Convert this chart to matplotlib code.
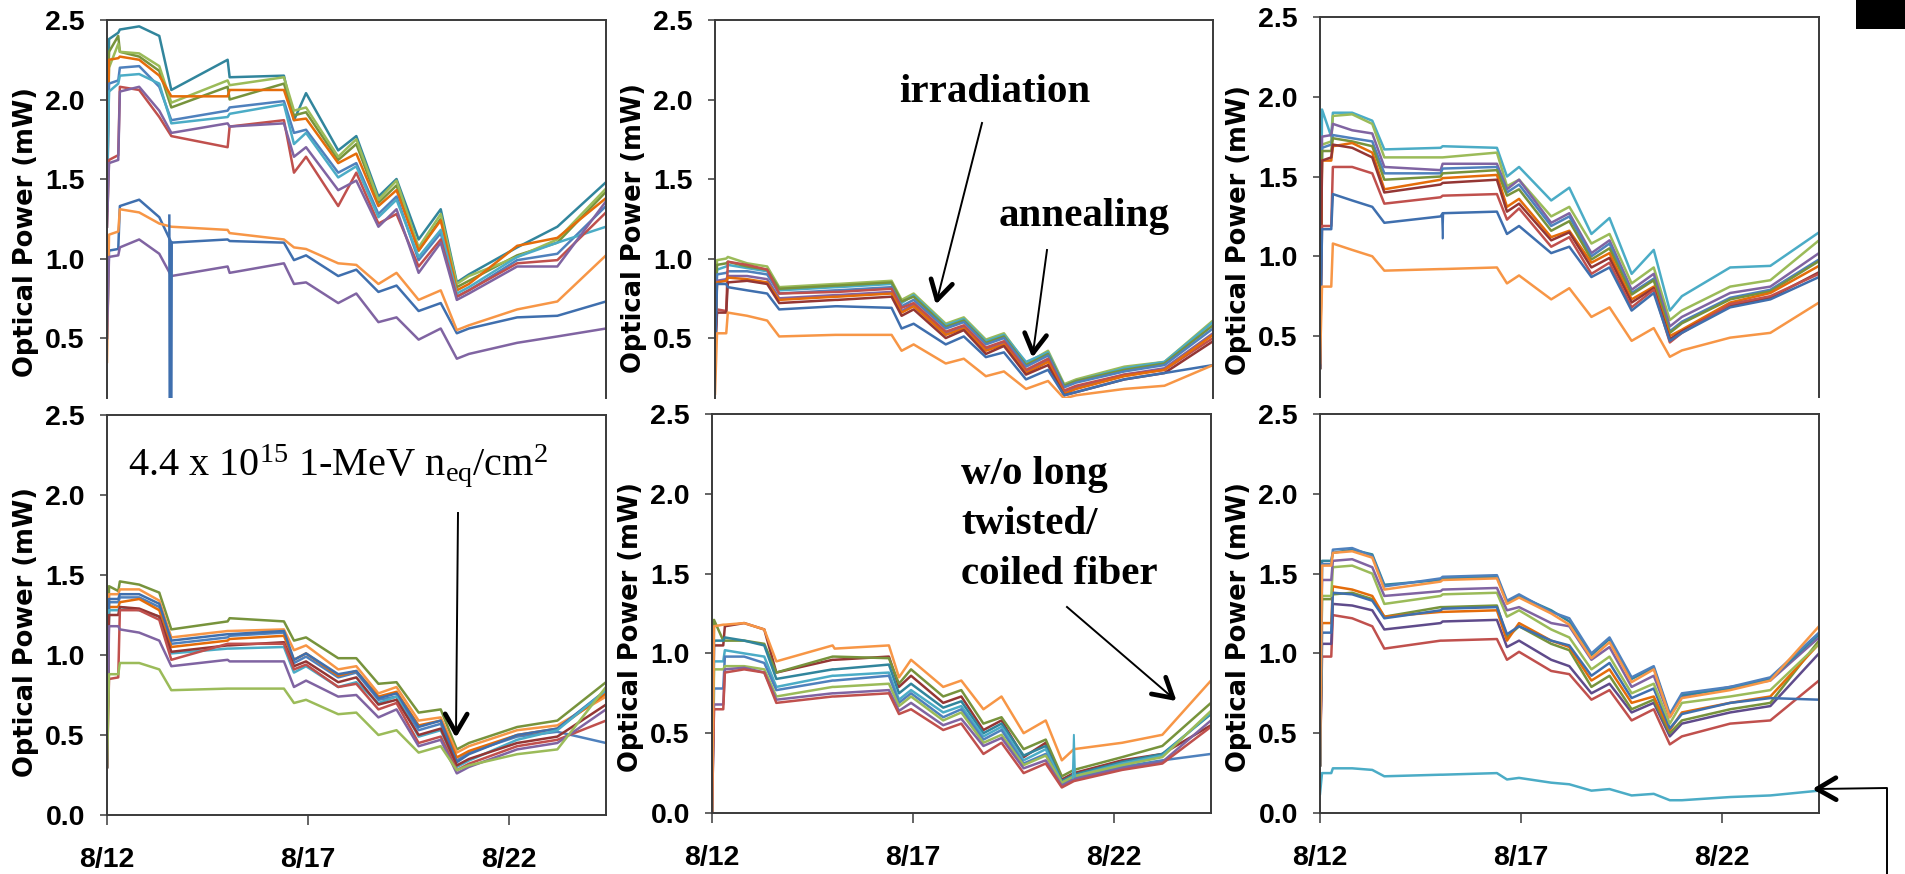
"""
光出力の経時変化（照射・アニール試験）6パネル図の再現
"""
import matplotlib
import matplotlib.pyplot as plt
import numpy as np
from matplotlib.lines import Line2D
from matplotlib.patches import Rectangle

matplotlib.use("Agg")
matplotlib.rcParams["font.family"] = ["Liberation Sans", "DejaVu Sans"]
matplotlib.rcParams["mathtext.fontset"] = "custom"
matplotlib.rcParams["mathtext.rm"] = "Liberation Serif"
matplotlib.rcParams["mathtext.it"] = "Liberation Serif:italic"

W, H = 1906, 874

# 共通の時間軸（8/12 からの日数）
T_DAYS = [0.0, 0.05, 0.28, 0.32, 0.8, 1.3, 1.6, 3.0, 3.05, 4.4, 4.65, 4.95,
          5.75, 6.2, 6.75, 7.2, 7.75, 8.3, 8.7, 9.0, 10.2, 11.2, 12.41]
X_TICKS = [0, 5, 10]
X_TICK_LABELS = ["8/12", "8/17", "8/22"]
Y_LABEL = "Optical Power (mW)"

BLUE, RED, GREEN, PURPLE = "#4F81BD", "#C0504D", "#9BBB59", "#8064A2"
CYAN, ORANGE, TEAL, DORANGE = "#4BACC6", "#F79646", "#31859C", "#E46C0A"
DGREEN, DRED, DBLUE, DPURPLE = "#77933C", "#943634", "#3F6FAE", "#5F4B8B"

# --- 上段左 ---
TL_COLORS = [TEAL, DGREEN, GREEN, DORANGE, BLUE, CYAN, RED, PURPLE, DBLUE, ORANGE, PURPLE]
TL_VALUES = [
    [1.40, 2.38, 2.42, 2.44, 2.46, 2.40, 2.06, 2.25, 2.14, 2.15, 1.87, 2.04, 1.68, 1.77, 1.39, 1.50, 1.12, 1.31, 0.85, 0.90, 1.07, 1.20, 1.48],
    [1.80, 2.30, 2.40, 2.30, 2.27, 2.18, 1.95, 2.08, 2.00, 2.10, 1.90, 1.92, 1.62, 1.72, 1.35, 1.46, 1.05, 1.25, 0.82, 0.86, 1.02, 1.10, 1.42],
    [1.50, 2.20, 2.35, 2.30, 2.29, 2.21, 1.98, 2.12, 2.09, 2.14, 1.93, 1.95, 1.64, 1.75, 1.37, 1.49, 1.07, 1.28, 0.84, 0.89, 1.01, 1.12, 1.44],
    [1.30, 2.25, 2.26, 2.27, 2.25, 2.15, 2.02, 2.02, 2.06, 2.06, 1.87, 1.88, 1.60, 1.66, 1.33, 1.43, 1.05, 1.24, 0.80, 0.84, 1.08, 1.13, 1.38],
    [1.30, 2.10, 2.12, 2.20, 2.21, 2.08, 1.87, 1.93, 1.95, 1.99, 1.79, 1.81, 1.54, 1.60, 1.28, 1.39, 0.99, 1.16, 0.76, 0.80, 0.99, 1.03, 1.33],
    [1.45, 2.05, 2.10, 2.15, 2.16, 2.10, 1.85, 1.89, 1.91, 1.97, 1.72, 1.79, 1.51, 1.58, 1.26, 1.37, 1.01, 1.18, 0.78, 0.82, 1.01, 1.10, 1.20],
    [1.20, 1.62, 1.65, 2.08, 2.06, 1.89, 1.77, 1.70, 1.83, 1.87, 1.54, 1.64, 1.33, 1.54, 1.22, 1.28, 0.95, 1.12, 0.76, 0.80, 0.97, 0.99, 1.29],
    [1.20, 1.60, 1.62, 2.05, 2.08, 1.93, 1.79, 1.85, 1.83, 1.85, 1.64, 1.70, 1.43, 1.49, 1.20, 1.31, 0.91, 1.10, 0.74, 0.78, 0.95, 0.95, 1.36],
    [0.50, 1.05, 1.06, 1.33, 1.37, 1.26, 1.10, 1.12, 1.11, 1.10, 0.99, 1.02, 0.89, 0.93, 0.79, 0.83, 0.67, 0.72, 0.53, 0.56, 0.63, 0.64, 0.73],
    [0.35, 1.15, 1.17, 1.31, 1.29, 1.22, 1.20, 1.18, 1.16, 1.12, 1.07, 1.06, 0.97, 0.96, 0.84, 0.91, 0.74, 0.80, 0.55, 0.58, 0.68, 0.73, 1.02],
    [0.50, 1.01, 1.02, 1.07, 1.12, 1.03, 0.89, 0.95, 0.91, 0.97, 0.84, 0.85, 0.72, 0.78, 0.60, 0.63, 0.49, 0.56, 0.37, 0.40, 0.47, 0.51, 0.56],
]
TL_SPIKE_T = [1.55, 1.56, 1.60, 1.61]
TL_SPIKE_V = [1.27, 0.0, 0.0, 1.10]

# --- 上段中央 ---
TM_COLORS = [GREEN, CYAN, DGREEN, BLUE, PURPLE, RED, DORANGE, DRED, DBLUE, ORANGE]
TM_VALUES = [
    [0.55, 0.99, 1.00, 1.01, 0.97, 0.95, 0.82, 0.84, 0.84, 0.86, 0.74, 0.78, 0.59, 0.63, 0.49, 0.53, 0.34, 0.42, 0.21, 0.24, 0.32, 0.35, 0.61],
    [0.50, 0.93, 0.95, 0.96, 0.94, 0.92, 0.80, 0.82, 0.82, 0.84, 0.72, 0.77, 0.58, 0.62, 0.48, 0.52, 0.35, 0.41, 0.20, 0.23, 0.31, 0.35, 0.60],
    [0.50, 0.96, 0.97, 0.98, 0.95, 0.93, 0.81, 0.83, 0.83, 0.85, 0.73, 0.76, 0.57, 0.61, 0.47, 0.51, 0.33, 0.40, 0.20, 0.23, 0.30, 0.34, 0.58],
    [0.40, 0.90, 0.91, 0.92, 0.92, 0.90, 0.78, 0.80, 0.80, 0.82, 0.70, 0.74, 0.56, 0.60, 0.46, 0.50, 0.32, 0.39, 0.19, 0.22, 0.29, 0.33, 0.56],
    [0.40, 0.86, 0.87, 0.89, 0.89, 0.87, 0.75, 0.77, 0.77, 0.79, 0.67, 0.71, 0.53, 0.57, 0.43, 0.47, 0.29, 0.36, 0.16, 0.19, 0.27, 0.31, 0.53],
    [0.40, 0.68, 0.67, 0.98, 0.96, 0.93, 0.78, 0.79, 0.79, 0.81, 0.69, 0.72, 0.54, 0.58, 0.44, 0.48, 0.30, 0.37, 0.17, 0.20, 0.27, 0.30, 0.50],
    [0.40, 0.85, 0.86, 0.88, 0.87, 0.85, 0.74, 0.76, 0.76, 0.78, 0.66, 0.70, 0.52, 0.56, 0.42, 0.46, 0.28, 0.35, 0.15, 0.18, 0.26, 0.30, 0.52],
    [0.40, 0.66, 0.66, 0.85, 0.86, 0.84, 0.72, 0.74, 0.74, 0.76, 0.64, 0.68, 0.50, 0.55, 0.40, 0.45, 0.27, 0.33, 0.14, 0.16, 0.24, 0.28, 0.48],
    [0.30, 0.84, 0.84, 0.82, 0.80, 0.78, 0.68, 0.70, 0.70, 0.69, 0.56, 0.59, 0.46, 0.51, 0.38, 0.41, 0.24, 0.30, 0.14, 0.16, 0.24, 0.28, 0.33],
    [0.15, 0.53, 0.53, 0.66, 0.64, 0.61, 0.51, 0.52, 0.52, 0.52, 0.42, 0.46, 0.34, 0.37, 0.26, 0.29, 0.18, 0.23, 0.12, 0.14, 0.18, 0.20, 0.33],
]

# --- 上段右 ---
TR_COLORS = [CYAN, GREEN, PURPLE, BLUE, DGREEN, DORANGE, DRED, RED, DBLUE, ORANGE]
TR_VALUES = [
    [0.30, 1.92, 1.75, 1.90, 1.90, 1.85, 1.67, 1.68, 1.69, 1.68, 1.50, 1.56, 1.35, 1.43, 1.14, 1.24, 0.89, 1.04, 0.66, 0.75, 0.93, 0.94, 1.15],
    [0.30, 1.70, 1.72, 1.88, 1.89, 1.83, 1.62, 1.62, 1.62, 1.65, 1.44, 1.48, 1.25, 1.31, 1.08, 1.14, 0.83, 0.93, 0.60, 0.66, 0.81, 0.85, 1.10],
    [0.30, 1.75, 1.76, 1.83, 1.79, 1.77, 1.56, 1.54, 1.58, 1.58, 1.42, 1.48, 1.21, 1.27, 1.02, 1.10, 0.79, 0.89, 0.56, 0.62, 0.77, 0.81, 1.02],
    [0.30, 1.68, 1.70, 1.76, 1.74, 1.72, 1.52, 1.52, 1.55, 1.56, 1.40, 1.45, 1.19, 1.25, 1.00, 1.08, 0.77, 0.86, 0.53, 0.59, 0.74, 0.79, 0.98],
    [0.30, 1.66, 1.66, 1.74, 1.72, 1.69, 1.48, 1.50, 1.52, 1.54, 1.38, 1.42, 1.16, 1.22, 0.98, 1.05, 0.76, 0.85, 0.52, 0.58, 0.73, 0.78, 0.97],
    [0.30, 1.60, 1.60, 1.69, 1.71, 1.65, 1.42, 1.48, 1.49, 1.51, 1.31, 1.36, 1.12, 1.16, 0.96, 1.02, 0.73, 0.81, 0.50, 0.54, 0.71, 0.77, 0.94],
    [0.30, 1.60, 1.62, 1.70, 1.68, 1.62, 1.40, 1.45, 1.46, 1.48, 1.28, 1.33, 1.10, 1.15, 0.93, 0.99, 0.71, 0.80, 0.48, 0.53, 0.69, 0.74, 0.90],
    [0.30, 1.19, 1.19, 1.56, 1.56, 1.52, 1.33, 1.37, 1.38, 1.39, 1.23, 1.30, 1.06, 1.12, 0.89, 0.96, 0.68, 0.79, 0.46, 0.52, 0.70, 0.75, 0.89],
    [0.30, 1.17, 1.17, 1.39, 1.35, 1.31, 1.21, 1.25, 1.27, 1.28, 1.14, 1.19, 1.02, 1.06, 0.87, 0.93, 0.66, 0.77, 0.47, 0.52, 0.68, 0.73, 0.87],
    [0.33, 0.81, 0.81, 1.08, 1.04, 1.00, 0.91, 0.92, 0.92, 0.93, 0.83, 0.88, 0.73, 0.80, 0.62, 0.68, 0.47, 0.55, 0.37, 0.41, 0.49, 0.52, 0.71],
]
TR_SPIKE_T = [3.03, 3.05, 3.07]
TR_SPIKE_V = [1.26, 1.11, 1.27]

# --- 下段左 ---
BL_COLORS = [DGREEN, ORANGE, BLUE, DORANGE, DBLUE, CYAN, DRED, RED, PURPLE, GREEN]
BL_VALUES = [
    [0.30, 1.43, 1.40, 1.46, 1.44, 1.39, 1.16, 1.21, 1.23, 1.21, 1.09, 1.11, 0.98, 0.98, 0.82, 0.83, 0.64, 0.66, 0.41, 0.45, 0.55, 0.59, 0.83],
    [0.30, 1.38, 1.38, 1.41, 1.41, 1.34, 1.11, 1.15, 1.15, 1.16, 1.03, 1.06, 0.91, 0.93, 0.76, 0.80, 0.59, 0.61, 0.39, 0.43, 0.53, 0.56, 0.74],
    [0.30, 1.33, 1.33, 1.36, 1.36, 1.30, 1.07, 1.11, 1.12, 1.14, 0.95, 0.99, 0.86, 0.89, 0.72, 0.74, 0.53, 0.57, 0.34, 0.39, 0.49, 0.52, 0.45],
    [0.30, 1.30, 1.30, 1.33, 1.35, 1.28, 1.05, 1.09, 1.10, 1.12, 0.97, 1.01, 0.87, 0.90, 0.74, 0.77, 0.56, 0.59, 0.36, 0.40, 0.50, 0.54, 0.76],
    [0.30, 1.35, 1.35, 1.38, 1.38, 1.32, 1.09, 1.13, 1.13, 1.15, 0.97, 1.01, 0.88, 0.90, 0.73, 0.76, 0.55, 0.59, 0.33, 0.38, 0.50, 0.54, 0.78],
    [0.30, 1.28, 1.28, 1.30, 1.28, 1.24, 1.01, 1.04, 1.04, 1.05, 0.89, 0.93, 0.80, 0.83, 0.70, 0.74, 0.49, 0.53, 0.30, 0.34, 0.47, 0.53, 0.78],
    [0.30, 1.25, 1.25, 1.30, 1.29, 1.24, 1.02, 1.06, 1.06, 1.08, 0.93, 0.96, 0.83, 0.86, 0.69, 0.72, 0.50, 0.54, 0.31, 0.35, 0.45, 0.49, 0.69],
    [0.30, 0.85, 0.86, 1.28, 1.28, 1.22, 0.97, 1.07, 1.07, 1.07, 0.91, 0.94, 0.80, 0.82, 0.66, 0.70, 0.45, 0.49, 0.28, 0.32, 0.43, 0.47, 0.59],
    [0.30, 1.18, 1.18, 1.16, 1.14, 1.09, 0.93, 0.97, 0.96, 0.96, 0.80, 0.84, 0.74, 0.75, 0.61, 0.66, 0.43, 0.47, 0.26, 0.30, 0.41, 0.45, 0.66],
    [0.30, 0.88, 0.88, 0.95, 0.95, 0.91, 0.78, 0.79, 0.79, 0.79, 0.70, 0.72, 0.63, 0.64, 0.50, 0.53, 0.39, 0.43, 0.28, 0.31, 0.38, 0.41, 0.80],
]

# --- 下段中央 ---
BM_COLORS = [DRED, DGREEN, TEAL, CYAN, BLUE, GREEN, PURPLE, RED, ORANGE]
BM_VALUES = [
    [0.00, 1.05, 1.05, 1.17, 1.19, 1.15, 0.88, 0.96, 0.96, 0.98, 0.79, 0.86, 0.69, 0.73, 0.52, 0.58, 0.35, 0.44, 0.21, 0.25, 0.33, 0.37, 0.55],
    [0.00, 1.21, 1.08, 1.08, 1.08, 1.06, 0.88, 0.98, 0.98, 0.97, 0.81, 0.90, 0.73, 0.77, 0.56, 0.60, 0.40, 0.46, 0.23, 0.27, 0.35, 0.42, 0.69],
    [0.00, 1.08, 1.08, 1.10, 1.08, 1.05, 0.84, 0.90, 0.90, 0.93, 0.75, 0.81, 0.66, 0.70, 0.50, 0.56, 0.36, 0.42, 0.20, 0.24, 0.32, 0.37, 0.62],
    [0.00, 0.95, 0.95, 1.02, 1.00, 0.98, 0.79, 0.86, 0.86, 0.88, 0.71, 0.77, 0.63, 0.67, 0.48, 0.54, 0.33, 0.40, 0.19, 0.23, 0.31, 0.36, 0.63],
    [0.00, 0.78, 0.78, 0.98, 0.98, 0.94, 0.77, 0.83, 0.83, 0.86, 0.69, 0.75, 0.60, 0.65, 0.46, 0.52, 0.31, 0.37, 0.18, 0.22, 0.29, 0.33, 0.37],
    [0.00, 0.90, 0.90, 0.92, 0.92, 0.90, 0.73, 0.79, 0.79, 0.81, 0.67, 0.73, 0.58, 0.63, 0.44, 0.49, 0.30, 0.36, 0.19, 0.23, 0.30, 0.35, 0.64],
    [0.00, 0.68, 0.68, 0.90, 0.91, 0.88, 0.71, 0.75, 0.75, 0.77, 0.64, 0.69, 0.55, 0.59, 0.42, 0.47, 0.28, 0.33, 0.17, 0.21, 0.28, 0.32, 0.58],
    [0.00, 0.65, 0.65, 0.88, 0.90, 0.88, 0.69, 0.73, 0.73, 0.75, 0.62, 0.65, 0.52, 0.56, 0.37, 0.44, 0.25, 0.31, 0.16, 0.20, 0.27, 0.31, 0.54],
    [0.00, 1.17, 1.18, 1.18, 1.19, 1.15, 0.95, 1.05, 1.03, 1.05, 0.85, 0.96, 0.79, 0.83, 0.65, 0.73, 0.50, 0.58, 0.33, 0.40, 0.44, 0.49, 0.83],
]
BM_SPIKE_T = [8.97, 9.0, 9.03]
BM_SPIKE_V = [0.22, 0.49, 0.23]

# --- 下段右 ---
BR_COLORS = [RED, DPURPLE, DGREEN, DORANGE, DBLUE, GREEN, PURPLE, TEAL, BLUE, ORANGE, CYAN]
BR_VALUES = [
    [0.30, 0.98, 0.98, 1.24, 1.22, 1.17, 1.03, 1.08, 1.08, 1.09, 0.96, 1.01, 0.89, 0.87, 0.71, 0.77, 0.58, 0.65, 0.43, 0.48, 0.56, 0.58, 0.83],
    [0.30, 1.06, 1.06, 1.31, 1.30, 1.27, 1.15, 1.19, 1.20, 1.21, 1.04, 1.08, 0.96, 0.92, 0.75, 0.81, 0.63, 0.69, 0.48, 0.56, 0.63, 0.67, 1.00],
    [0.30, 1.34, 1.34, 1.37, 1.38, 1.34, 1.23, 1.29, 1.29, 1.30, 1.10, 1.17, 1.06, 1.02, 0.79, 0.86, 0.65, 0.71, 0.50, 0.58, 0.65, 0.69, 1.08],
    [0.30, 1.19, 1.19, 1.42, 1.40, 1.36, 1.23, 1.26, 1.26, 1.27, 1.08, 1.19, 1.08, 1.04, 0.83, 0.90, 0.69, 0.73, 0.52, 0.63, 0.69, 0.73, 1.06],
    [0.30, 1.13, 1.13, 1.38, 1.37, 1.33, 1.22, 1.27, 1.28, 1.29, 1.12, 1.17, 1.08, 1.05, 0.86, 0.94, 0.72, 0.78, 0.53, 0.62, 0.69, 0.72, 0.71],
    [0.30, 1.36, 1.36, 1.54, 1.55, 1.50, 1.31, 1.36, 1.37, 1.38, 1.23, 1.27, 1.15, 1.10, 0.90, 0.98, 0.75, 0.81, 0.56, 0.69, 0.73, 0.77, 1.06],
    [0.30, 1.46, 1.46, 1.58, 1.59, 1.54, 1.36, 1.39, 1.40, 1.41, 1.27, 1.29, 1.19, 1.17, 0.96, 1.04, 0.79, 0.86, 0.60, 0.73, 0.79, 0.83, 1.10],
    [0.30, 1.58, 1.58, 1.63, 1.65, 1.62, 1.43, 1.46, 1.47, 1.48, 1.32, 1.36, 1.27, 1.20, 0.99, 1.09, 0.84, 0.91, 0.61, 0.74, 0.78, 0.84, 1.12],
    [0.30, 1.56, 1.56, 1.65, 1.66, 1.61, 1.42, 1.47, 1.48, 1.49, 1.33, 1.37, 1.26, 1.22, 1.00, 1.10, 0.85, 0.92, 0.62, 0.75, 0.79, 0.85, 1.13],
    [0.30, 1.55, 1.55, 1.63, 1.64, 1.60, 1.40, 1.45, 1.46, 1.47, 1.31, 1.35, 1.25, 1.18, 0.97, 1.07, 0.82, 0.90, 0.60, 0.72, 0.77, 0.83, 1.17],
    [0.12, 0.25, 0.25, 0.28, 0.28, 0.27, 0.23, 0.24, 0.24, 0.25, 0.21, 0.22, 0.19, 0.18, 0.14, 0.15, 0.11, 0.12, 0.08, 0.08, 0.10, 0.11, 0.14],
]

FRAME = "#3a3a3a"
TICK_FONT = dict(family=["Liberation Sans", "DejaVu Sans"], fontweight="bold", fontsize=20.5)


def px_rect(x0, y0, x1, y1):
    """画素座標 (左上原点) の箱を figure 座標の [l, b, w, h] に変換"""
    return [x0 / W, 1 - y1 / H, (x1 - x0) / W, (y1 - y0) / H]


def fxy(x, y):
    return x / W, 1 - y / H


def make_panel(fig, box, ylim, values, colors, bottom_row, label_y):
    ax = fig.add_axes(px_rect(*box))
    for vals, c in zip(values, colors):
        ax.plot(T_DAYS, vals, color=c, lw=1.8, solid_joinstyle="round")
    ax.set_xlim(0, 12.41)
    ax.set_ylim(*ylim)
    yticks = np.arange(0.0, 2.51, 0.5) if bottom_row else np.arange(0.5, 2.51, 0.5)
    ax.set_yticks(yticks)
    ax.set_yticklabels([f"{v:.1f}" for v in yticks], **TICK_FONT)
    ax.tick_params(axis="y", direction="out", length=5, width=1.1, pad=11, color=FRAME)
    for sp in ax.spines.values():
        sp.set_color(FRAME)
        sp.set_linewidth(1.4)
    if bottom_row:
        ax.set_xticks(X_TICKS)
        ax.set_xticklabels(X_TICK_LABELS, **TICK_FONT)
        ax.tick_params(axis="x", direction="out", length=7, width=1.1, pad=16, color=FRAME)
    else:
        ax.set_xticks([])
        ax.spines["bottom"].set_visible(False)
    # 縦軸ラベル（Verdana 風の太字）
    ax.text(-0.163, label_y, Y_LABEL, transform=ax.transAxes, rotation=90,
            ha="center", va="center", fontsize=18.5, fontweight="bold",
            family=["DejaVu Sans"])
    return ax


def draw_arrow(fig, pts, head_len=22, head_angle=30, shaft_lw=1.4, head_lw=3.4):
    """pts: 画素座標の折れ線（最後が矢じり先端）"""
    xs = [fxy(x, y)[0] for x, y in pts]
    ys = [fxy(x, y)[1] for x, y in pts]
    fig.add_artist(Line2D(xs, ys, color="black", lw=shaft_lw))
    (sx, sy), (tx, ty) = pts[-2], pts[-1]
    ang = np.arctan2(sy - ty, sx - tx)
    for s in (1, -1):
        a = ang + s * np.radians(head_angle)
        hx, hy = tx + head_len * np.cos(a), ty + head_len * np.sin(a)
        fig.add_artist(Line2D([fxy(tx, ty)[0], fxy(hx, hy)[0]],
                              [fxy(tx, ty)[1], fxy(hx, hy)[1]],
                              color="black", lw=head_lw, solid_capstyle="round"))


def main() -> None:
    fig = plt.figure(figsize=(W / 100, H / 100), dpi=100)

    ax_tl = make_panel(fig, (107, 20, 606, 398), (0.123, 2.5), TL_VALUES, TL_COLORS, False, 0.44)
    ax_tl.plot(TL_SPIKE_T, TL_SPIKE_V, color=DBLUE, lw=1.8)
    make_panel(fig, (715, 20, 1213, 398), (0.123, 2.5), TM_VALUES, TM_COLORS, False, 0.451)
    ax_tr = make_panel(fig, (1320, 17, 1819, 397), (0.118, 2.5), TR_VALUES, TR_COLORS, False, 0.44)
    ax_tr.plot(TR_SPIKE_T, TR_SPIKE_V, color=DBLUE, lw=1.2)
    make_panel(fig, (107, 415, 606, 815), (0.0, 2.5), BL_VALUES, BL_COLORS, True, 0.458)
    ax_bm = make_panel(fig, (712, 414, 1211, 813), (0.0, 2.5), BM_VALUES, BM_COLORS, True, 0.467)
    ax_bm.plot(BM_SPIKE_T, BM_SPIKE_V, color=CYAN, lw=1.4)
    make_panel(fig, (1320, 414, 1819, 813), (0.0, 2.5), BR_VALUES, BR_COLORS, True, 0.467)

    # 注記テキスト
    serif = ["Liberation Serif", "DejaVu Serif"]
    fig.text(*fxy(995, 102), "irradiation", family=serif, fontsize=29.5,
             fontweight="bold", ha="center", va="baseline")
    fig.text(*fxy(1084, 226), "annealing", family=serif, fontsize=29.5,
             fontweight="bold", ha="center", va="baseline")
    for i, line in enumerate(["w/o long", "twisted/", "coiled fiber"]):
        fig.text(*fxy(961, 484 + 50 * i), line, family=serif, fontsize=29.5,
                 fontweight="bold", ha="left", va="baseline")
    fig.text(*fxy(128, 475),
             r"4.4 x 10$^{\mathrm{15}}$ 1-MeV n$_{\mathrm{eq}}$/cm$^{\mathrm{2}}$",
             family=serif, fontsize=29, fontweight="normal", ha="left", va="baseline")

    # 矢印
    draw_arrow(fig, [(982, 123), (937, 300)])
    draw_arrow(fig, [(1047, 250), (1033, 353)])
    draw_arrow(fig, [(458, 513), (456, 733)])
    draw_arrow(fig, [(1067, 607), (1173, 698)])
    draw_arrow(fig, [(1887, 874), (1887, 788), (1817, 789)])

    # 右上の黒い帯
    fig.add_artist(Rectangle(fxy(1856, 29), 50 / W, 29 / H, transform=fig.transFigure,
                             facecolor="black", edgecolor="none"))

    fig.savefig("out.png", dpi=100)
    plt.close(fig)


if __name__ == "__main__":
    main()
